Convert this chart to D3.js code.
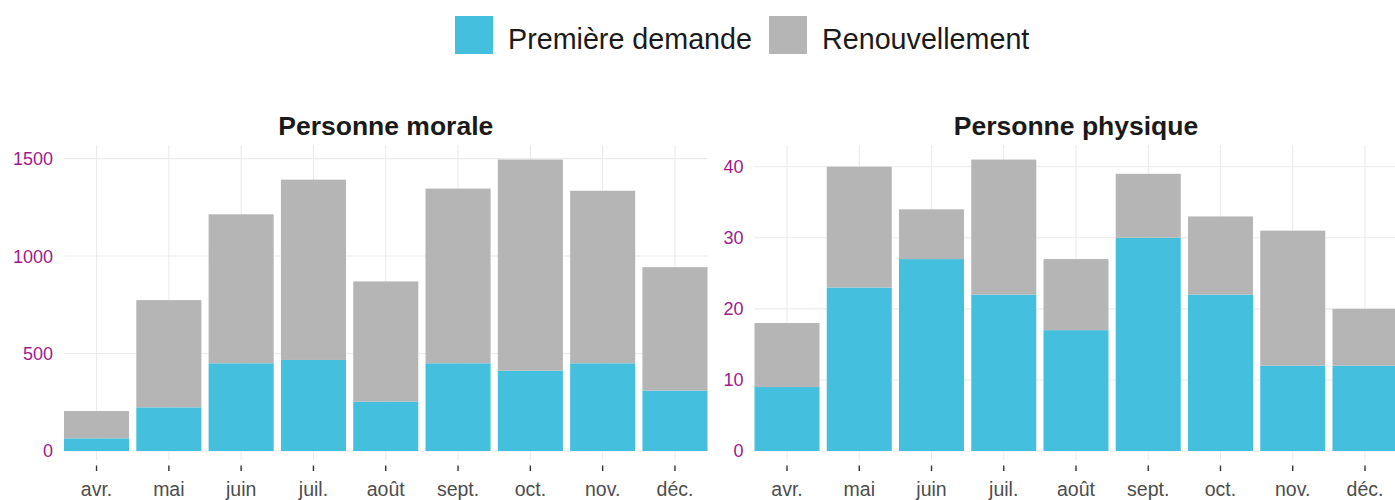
<!DOCTYPE html>
<html>
<head>
<meta charset="utf-8">
<script src="https://cdn.jsdelivr.net/npm/d3@7"></script>
<style>
  html, body { margin: 0; padding: 0; background: #fff; }
  svg { display: block; font-family: "Liberation Sans", Arial, sans-serif; }
</style>
</head>
<body>
<svg id="chart" width="1395" height="500"></svg>
<script>
const months = ["avr.", "mai", "juin", "juil.", "août", "sept.", "oct.", "nov.", "déc."];
const seriesNames = ["Première demande", "Renouvellement"];
const seriesColors = ["#44c0de", "#b4b5b4"];

const moralePremiere = [65, 224, 450, 467, 253, 450, 412, 450, 310];
const moraleRenouv   = [140, 550, 764, 925, 617, 896, 1083, 885, 633];
const moraleTicks    = [0, 500, 1000, 1500];

const physiquePremiere = [9, 23, 27, 22, 17, 30, 22, 12, 12];
const physiqueRenouv   = [9, 17, 7, 19, 10, 9, 11, 19, 8];
const physiqueTicks    = [0, 10, 20, 30, 40];

const panels = [
  { title: "Personne morale", first: moralePremiere, renew: moraleRenouv, ticks: moraleTicks, x0: 64, x1: 707.5 },
  { title: "Personne physique", first: physiquePremiere, renew: physiqueRenouv, ticks: physiqueTicks, x0: 754.5, x1: 1397.5 }
];

const svg = d3.select("#chart");
const yTop = 145, yBase = 451, panelBottom = 460;

panels.forEach(p => {
  const rows = months.map((m, i) => ({ month: m, first: p.first[i], renew: p.renew[i] }));
  const stack = d3.stack().keys(["first", "renew"])(rows);
  const maxTotal = d3.max(rows, d => d.first + d.renew);

  const x = d3.scaleBand().domain(months).range([p.x0, p.x1]).paddingInner(0.1).paddingOuter(0);
  const y = d3.scaleLinear().domain([0, maxTotal * 1.05]).range([yBase, yTop]);

  const g = svg.append("g");

  // horizontal grid
  g.selectAll("line.hg").data(p.ticks).join("line")
    .attr("x1", p.x0).attr("x2", p.x1)
    .attr("y1", d => y(d)).attr("y2", d => y(d))
    .attr("stroke", "#ebebeb").attr("stroke-width", 1.1);
  // vertical grid
  g.selectAll("line.vg").data(months).join("line")
    .attr("x1", d => x(d) + x.bandwidth() / 2).attr("x2", d => x(d) + x.bandwidth() / 2)
    .attr("y1", yTop).attr("y2", panelBottom)
    .attr("stroke", "#ebebeb").attr("stroke-width", 1.1);

  // bars
  stack.forEach((layer, k) => {
    g.selectAll(null).data(layer).join("rect")
      .attr("x", d => x(d.data.month))
      .attr("width", x.bandwidth())
      .attr("y", d => y(d[1]))
      .attr("height", d => y(d[0]) - y(d[1]))
      .attr("fill", seriesColors[k]);
  });

  // y axis labels
  g.selectAll("text.yl").data(p.ticks).join("text")
    .attr("x", p.x0 - 11).attr("y", d => y(d))
    .attr("dy", "0.36em")
    .attr("text-anchor", "end")
    .attr("font-size", 18)
    .attr("fill", "#9e1a8c")
    .text(d => d);

  // x ticks
  g.selectAll("line.xt").data(months).join("line")
    .attr("x1", d => x(d) + x.bandwidth() / 2).attr("x2", d => x(d) + x.bandwidth() / 2)
    .attr("y1", 465.5).attr("y2", 471)
    .attr("stroke", "#333").attr("stroke-width", 1.4);

  // x labels
  g.selectAll("text.xl").data(months).join("text")
    .attr("x", d => x(d) + x.bandwidth() / 2).attr("y", 496)
    .attr("text-anchor", "middle")
    .attr("font-size", 19.5)
    .attr("fill", "#4d4d4d")
    .text(d => d);

  // title
  g.append("text")
    .attr("x", (p.x0 + p.x1) / 2).attr("y", 135)
    .attr("text-anchor", "middle")
    .attr("font-size", 26.5).attr("font-weight", "bold")
    .attr("fill", "#1a1a1a")
    .text(p.title);
});

// legend
const legendItems = [
  { name: seriesNames[0], color: seriesColors[0], sx: 455, tx: 508 },
  { name: seriesNames[1], color: seriesColors[1], sx: 769, tx: 822 }
];
const lg = svg.append("g");
lg.selectAll("rect").data(legendItems).join("rect")
  .attr("x", d => d.sx).attr("y", 16).attr("width", 38).attr("height", 38)
  .attr("fill", d => d.color);
lg.selectAll("text").data(legendItems).join("text")
  .attr("x", d => d.tx).attr("y", 48.5)
  .attr("font-size", 28.7).attr("fill", "#1a1a1a")
  .text(d => d.name);
</script>
</body>
</html>
